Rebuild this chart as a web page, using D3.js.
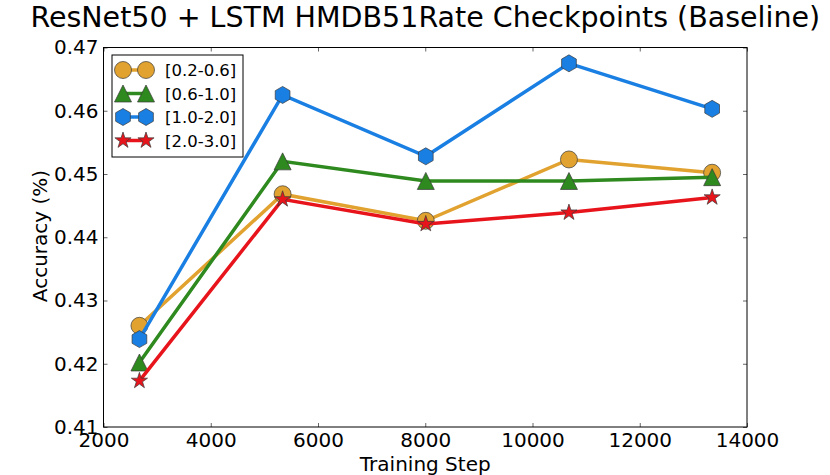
<!DOCTYPE html>
<html>
<head>
<meta charset="utf-8">
<script src="https://cdn.jsdelivr.net/npm/d3@7"></script>
<style>
  body { margin: 0; background: #fff; }
  svg { display: block; font-family: "DejaVu Sans", sans-serif; }
</style>
</head>
<body>
<div id="graphicContainer"></div>
<script>
var steps = [2670, 5340, 8010, 10680, 13350]
var rate02 = [0.4260, 0.4468, 0.4426, 0.4523, 0.4502]
var rate06 = [0.4202, 0.4520, 0.4489, 0.4489, 0.4495]
var rate10 = [0.4239, 0.4625, 0.4528, 0.4675, 0.4603]
var rate20 = [0.4173, 0.4460, 0.4421, 0.4439, 0.4463]
var seriesNames = ["[0.2-0.6]", "[0.6-1.0]", "[1.0-2.0]", "[2.0-3.0]"]
var xTicks = [2000, 4000, 6000, 8000, 10000, 12000, 14000]
var yTicks = [0.41, 0.42, 0.43, 0.44, 0.45, 0.46, 0.47]

var width = 830
var height = 475
var margin = { top: 47.5, right: 83, bottom: 48, left: 103.5 }

var series = [
  { name: seriesNames[0], values: rate02, color: "#e1a22f", marker: "circle" },
  { name: seriesNames[1], values: rate06, color: "#2e8a1e", marker: "triangle" },
  { name: seriesNames[2], values: rate10, color: "#1a7fe3", marker: "hexagon" },
  { name: seriesNames[3], values: rate20, color: "#e8141c", marker: "star" }
]

// marker outlines, ms = 17 like matplotlib markersize
var ms = 17
function markerPath(type) {
  var r = ms / 2
  var pts = []
  if (type === "triangle") {
    return "M0," + (-r) + "L" + (-r) + "," + r + "L" + r + "," + r + "Z"
  }
  if (type === "hexagon") {
    for (var i = 0; i < 6; i++) {
      var a = -Math.PI / 2 + i * Math.PI / 3
      pts.push([r * Math.cos(a), r * Math.sin(a)])
    }
  }
  if (type === "star") {
    var inner = r * 0.381966
    for (var j = 0; j < 10; j++) {
      var b = -Math.PI / 2 + j * Math.PI / 5
      var rr = j % 2 === 0 ? r : inner
      pts.push([rr * Math.cos(b), rr * Math.sin(b)])
    }
  }
  return "M" + pts.map(function (p) { return p[0].toFixed(2) + "," + p[1].toFixed(2) }).join("L") + "Z"
}

function drawMarker(g, type, color, x, y) {
  if (type === "circle") {
    g.append("circle")
      .attr("cx", x).attr("cy", y).attr("r", ms / 2)
      .attr("fill", color).attr("stroke", "#3a3a3a").attr("stroke-width", 0.7)
  } else {
    g.append("path")
      .attr("d", markerPath(type))
      .attr("transform", "translate(" + x + "," + y + ")")
      .attr("fill", color).attr("stroke", "#3a3a3a").attr("stroke-width", 0.7)
  }
}

var svg = d3.select("#graphicContainer")
  .append("svg")
  .attr("width", width)
  .attr("height", height)

var x = d3.scaleLinear()
  .domain([2000, 14000])
  .range([margin.left, width - margin.right])

var y = d3.scaleLinear()
  .domain([0.41, 0.47])
  .range([height - margin.bottom, margin.top])

// axes with inward ticks on all sides
svg.append("g")
  .attr("transform", "translate(0," + (height - margin.bottom) + ")")
  .call(d3.axisBottom(x).tickValues(xTicks).tickSize(-4).tickSizeOuter(0).tickPadding(6).tickFormat(d3.format("d")))
  .call(function (g) {
    g.selectAll("text").attr("font-size", 20).attr("fill", "#000").attr("font-family", "DejaVu Sans")
  })

svg.append("g")
  .attr("transform", "translate(" + margin.left + ",0)")
  .call(d3.axisLeft(y).tickValues(yTicks).tickSize(-4).tickSizeOuter(0).tickPadding(5).tickFormat(d3.format(".2f")))
  .call(function (g) {
    g.selectAll("text").attr("font-size", 20).attr("fill", "#000").attr("font-family", "DejaVu Sans")
  })

svg.append("g")
  .attr("transform", "translate(0," + margin.top + ")")
  .call(d3.axisTop(x).tickValues(xTicks).tickSize(-4).tickSizeOuter(0).tickFormat(""))

svg.append("g")
  .attr("transform", "translate(" + (width - margin.right) + ",0)")
  .call(d3.axisRight(y).tickValues(yTicks).tickSize(-4).tickSizeOuter(0).tickFormat(""))

svg.selectAll(".domain").remove()
svg.selectAll(".tick line").attr("stroke", "#000").attr("stroke-width", 0.6)

svg.append("rect")
  .attr("x", margin.left)
  .attr("y", margin.top)
  .attr("width", width - margin.left - margin.right)
  .attr("height", height - margin.top - margin.bottom)
  .attr("fill", "none")
  .attr("stroke", "#000")
  .attr("stroke-width", 1)

var line = d3.line()
  .x(function (d, i) { return x(steps[i]) })
  .y(function (d) { return y(d) })

var plot = svg.append("g")

series.forEach(function (s) {
  var g = plot.append("g")
  g.append("path")
    .datum(s.values)
    .attr("d", line)
    .attr("fill", "none")
    .attr("stroke", s.color)
    .attr("stroke-width", 3.5)
  s.values.forEach(function (v, i) {
    drawMarker(g, s.marker, s.color, x(steps[i]), y(v))
  })
})

// legend
var legend = svg.append("g")
legend.append("rect")
  .attr("x", 112)
  .attr("y", 55)
  .attr("width", 131)
  .attr("height", 102)
  .attr("fill", "#fff")
  .attr("stroke", "#000")
  .attr("stroke-width", 1)

series.forEach(function (s, i) {
  var ly = 70 + i * 23.5
  legend.append("line")
    .attr("x1", 123).attr("x2", 146)
    .attr("y1", ly).attr("y2", ly)
    .attr("stroke", s.color).attr("stroke-width", 3.5)
  drawMarker(legend, s.marker, s.color, 123, ly)
  drawMarker(legend, s.marker, s.color, 146, ly)
  legend.append("text")
    .attr("x", 165)
    .attr("y", ly + 6)
    .attr("font-size", 16.5)
    .text(s.name)
})

// titles
svg.append("text")
  .attr("x", (margin.left + width - margin.right) / 2)
  .attr("y", 27)
  .attr("text-anchor", "middle")
  .attr("font-size", 28.5)
  .text("ResNet50 + LSTM HMDB51Rate Checkpoints (Baseline)")

svg.append("text")
  .attr("x", (margin.left + width - margin.right) / 2)
  .attr("y", 471)
  .attr("text-anchor", "middle")
  .attr("font-size", 20)
  .text("Training Step")

svg.append("text")
  .attr("transform", "translate(47,236) rotate(-90)")
  .attr("text-anchor", "middle")
  .attr("font-size", 20)
  .text("Accuracy (%)")
</script>
</body>
</html>
